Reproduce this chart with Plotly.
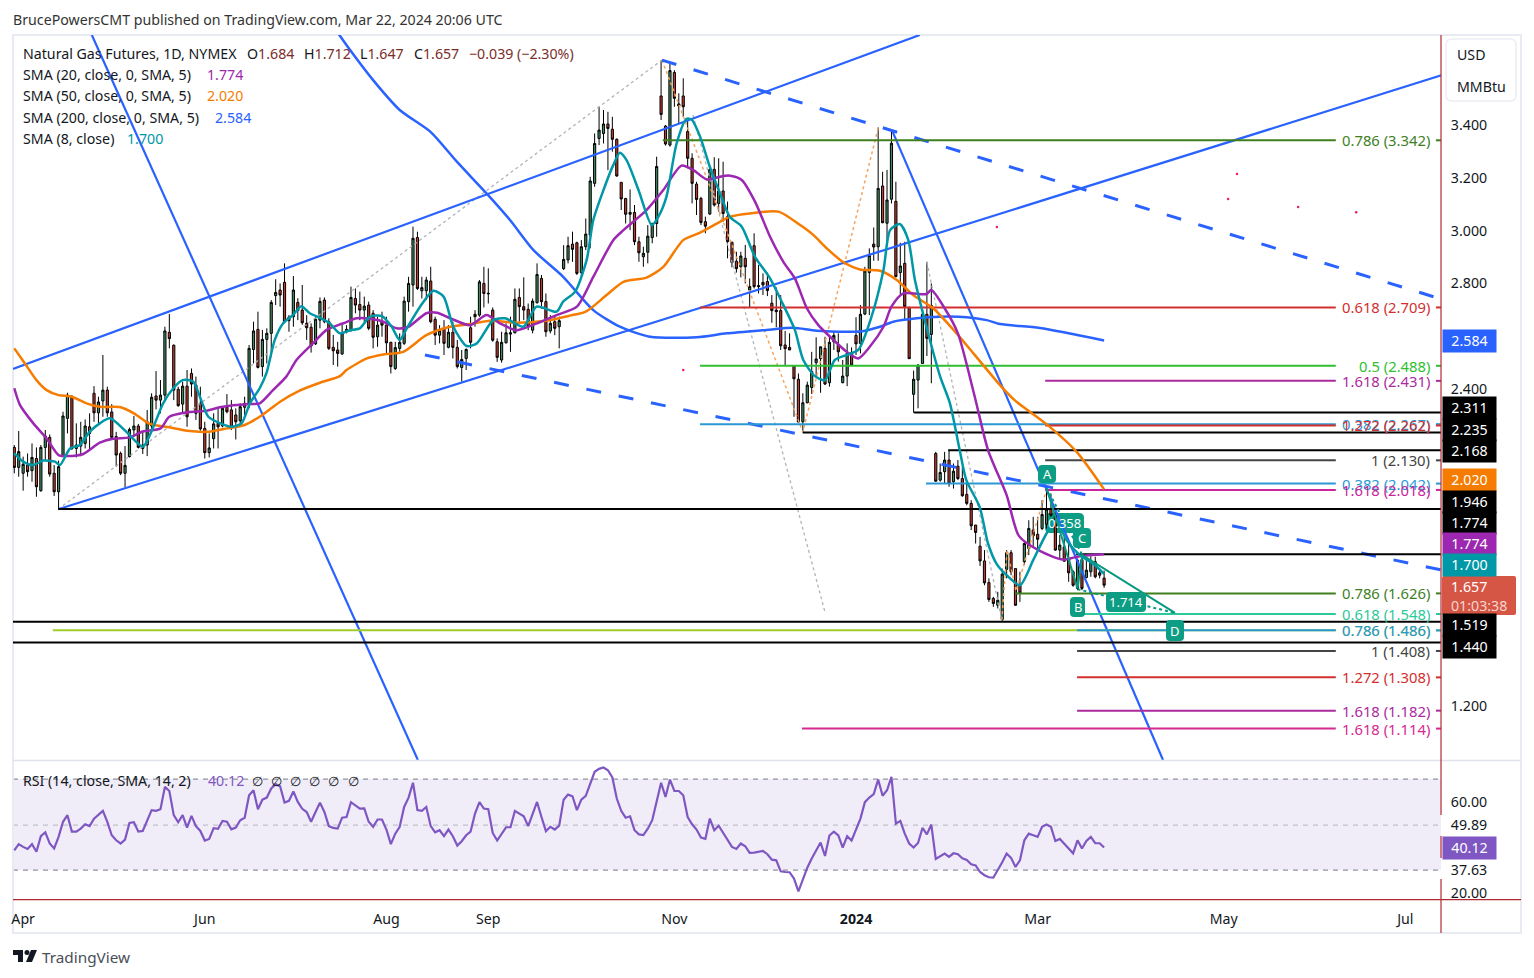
import plotly.graph_objects as go

# ---------------- DATA ----------------
opens = [2.179,2.103,2.081,2.112,2.091,2.137,2.015,2.179,2.217,2.081,
2.011,2.146,2.289,2.371,2.175,2.184,2.194,2.257,2.384,2.310,
2.355,2.396,2.313,2.220,2.156,2.081,2.144,2.245,2.260,2.175,
2.188,2.260,2.374,2.358,2.377,2.615,2.566,2.399,2.343,2.411,
2.459,2.415,2.346,2.251,2.159,2.212,2.270,2.260,2.331,2.321,
2.302,2.280,2.331,2.346,2.550,2.626,2.485,2.588,2.611,2.754,
2.775,2.804,2.659,2.674,2.728,2.699,2.649,2.634,2.571,2.661,
2.737,2.655,2.558,2.548,2.533,2.617,2.623,2.743,2.720,2.699,
2.718,2.687,2.598,2.655,2.642,2.577,2.478,2.554,2.573,2.731,
2.794,2.974,2.772,2.772,2.809,2.664,2.604,2.630,2.558,2.615,
2.558,2.482,2.516,2.632,2.683,2.680,2.800,2.763,2.699,2.579,
2.510,2.575,2.608,2.613,2.747,2.712,2.702,2.623,2.727,2.819,
2.731,2.620,2.655,2.636,2.856,2.889,2.949,2.954,2.841,2.939,
2.983,3.179,3.349,3.368,3.404,3.384,3.346,3.183,3.122,3.062,
3.069,2.958,2.901,2.918,2.974,3.027,3.510,3.396,3.324,3.599,
3.480,3.510,3.375,3.274,3.176,3.122,3.034,3.063,3.232,3.103,
3.150,3.053,2.956,2.884,2.863,2.895,2.775,2.943,2.792,2.794,
2.807,2.725,2.699,2.697,2.567,2.558,2.488,2.437,2.276,2.348,
2.406,2.500,2.515,2.554,2.424,2.579,2.567,2.424,2.449,2.538,
2.603,2.573,2.684,2.841,2.949,2.939,3.169,3.028,3.119,3.111,
2.841,2.876,2.709,2.380,2.434,2.497,2.683,2.607,2.156,2.055,
2.087,2.131,2.049,2.108,2.061,2.001,1.967,1.885,1.805,1.749,
1.667,1.607,1.581,1.527,1.717,1.780,1.720,1.657,1.746,1.796,
1.866,1.850,1.872,1.888,1.948,1.922,1.790,1.802,1.756,1.708,
1.645,1.754,1.686,1.708,1.746,1.695,1.684]
highs = [2.188,2.241,2.144,2.156,2.194,2.179,2.188,2.245,2.228,2.112,
2.129,2.314,2.386,2.377,2.270,2.276,2.285,2.308,2.411,2.371,
2.529,2.409,2.343,2.238,2.163,2.184,2.254,2.298,2.268,2.238,
2.321,2.384,2.468,2.434,2.636,2.684,2.569,2.409,2.428,2.472,
2.478,2.447,2.409,2.276,2.232,2.308,2.327,2.333,2.381,2.358,
2.327,2.346,2.371,2.567,2.655,2.693,2.624,2.630,2.737,2.816,
2.800,2.876,2.680,2.828,2.744,2.794,2.680,2.649,2.674,2.747,
2.747,2.668,2.605,2.579,2.649,2.642,2.788,2.781,2.769,2.750,
2.731,2.699,2.674,2.693,2.674,2.579,2.579,2.611,2.750,2.825,
3.015,2.996,2.825,2.825,2.863,2.674,2.642,2.661,2.642,2.655,
2.586,2.548,2.554,2.674,2.699,2.813,2.863,2.857,2.709,2.592,
2.617,2.649,2.674,2.781,2.781,2.823,2.724,2.743,2.876,2.832,
2.762,2.680,2.680,2.674,2.945,2.977,2.996,2.958,2.964,3.046,
3.204,3.368,3.469,3.457,3.450,3.431,3.349,3.183,3.122,3.156,
3.097,2.977,2.939,3.021,3.030,3.280,3.646,3.400,3.631,3.608,
3.520,3.577,3.419,3.293,3.185,3.128,3.053,3.242,3.278,3.274,
3.261,3.110,2.958,2.920,2.920,2.946,2.819,2.990,2.870,2.838,
2.841,2.756,2.785,2.756,2.620,2.611,2.488,2.459,2.384,2.428,
2.541,2.596,2.560,2.598,2.598,2.620,2.611,2.510,2.573,2.558,
2.672,2.718,2.863,2.933,3.012,3.391,3.223,3.230,3.375,3.185,
2.954,2.958,2.712,2.470,2.494,2.699,2.882,2.800,2.162,2.118,
2.162,2.169,2.118,2.131,2.105,2.042,1.979,1.885,1.840,1.790,
1.683,1.613,1.632,1.720,1.790,1.790,1.720,1.708,1.828,1.903,
1.916,1.916,1.979,2.017,2.004,1.948,1.847,1.840,1.821,1.714,
1.758,1.771,1.758,1.767,1.765,1.720,1.712]
lows = [2.081,2.068,2.015,2.068,2.049,1.992,2.011,2.131,2.068,1.995,
1.948,2.144,2.232,2.169,2.141,2.146,2.175,2.169,2.276,2.270,
2.295,2.295,2.207,2.106,2.074,2.028,2.141,2.220,2.175,2.154,
2.146,2.245,2.323,2.308,2.358,2.554,2.358,2.333,2.308,2.257,
2.371,2.283,2.242,2.137,2.141,2.175,2.175,2.255,2.308,2.245,
2.209,2.257,2.295,2.327,2.497,2.478,2.447,2.497,2.523,2.718,
2.712,2.649,2.617,2.636,2.661,2.643,2.586,2.538,2.567,2.630,
2.649,2.548,2.491,2.485,2.529,2.611,2.617,2.687,2.661,2.655,
2.623,2.554,2.560,2.598,2.529,2.459,2.472,2.541,2.567,2.693,
2.712,2.775,2.743,2.737,2.649,2.567,2.573,2.529,2.554,2.516,
2.478,2.428,2.472,2.554,2.636,2.674,2.709,2.724,2.579,2.503,
2.500,2.573,2.541,2.611,2.655,2.661,2.623,2.611,2.724,2.705,
2.598,2.611,2.604,2.554,2.851,2.876,2.882,2.832,2.819,2.926,
2.933,3.166,3.324,3.330,3.229,3.299,3.204,3.078,3.027,3.002,
2.945,2.882,2.863,2.876,2.952,2.977,3.419,3.322,3.318,3.469,
3.404,3.431,3.236,3.103,3.059,3.021,2.990,3.059,3.091,3.072,
3.034,2.895,2.861,2.841,2.823,2.800,2.709,2.781,2.762,2.756,
2.752,2.651,2.634,2.548,2.488,2.548,2.295,2.275,2.235,2.346,
2.381,2.447,2.386,2.415,2.409,2.548,2.504,2.422,2.411,2.487,
2.529,2.535,2.680,2.680,2.886,2.886,3.028,2.946,3.103,2.823,
2.756,2.664,2.515,2.310,2.327,2.497,2.525,2.422,2.049,2.049,
2.042,2.030,2.023,2.055,1.992,1.960,1.866,1.815,1.730,1.657,
1.594,1.575,1.569,1.518,1.683,1.695,1.579,1.594,1.733,1.771,
1.802,1.796,1.866,1.872,1.916,1.787,1.754,1.746,1.670,1.651,
1.638,1.638,1.683,1.689,1.683,1.683,1.647]
closes = [2.103,2.163,2.115,2.087,2.141,2.030,2.179,2.222,2.078,2.011,
2.106,2.298,2.377,2.175,2.188,2.217,2.260,2.232,2.310,2.351,
2.396,2.310,2.217,2.150,2.081,2.111,2.247,2.260,2.179,2.188,
2.276,2.369,2.358,2.377,2.620,2.591,2.396,2.337,2.411,2.295,
2.419,2.308,2.249,2.159,2.177,2.268,2.257,2.327,2.314,2.255,
2.276,2.333,2.346,2.554,2.620,2.482,2.588,2.611,2.728,2.766,
2.756,2.655,2.672,2.775,2.697,2.651,2.632,2.563,2.665,2.732,
2.655,2.554,2.545,2.535,2.613,2.626,2.747,2.718,2.699,2.714,
2.630,2.596,2.642,2.642,2.575,2.485,2.557,2.577,2.733,2.800,
2.971,2.781,2.784,2.813,2.655,2.604,2.621,2.573,2.615,2.558,
2.485,2.512,2.550,2.577,2.674,2.806,2.762,2.761,2.585,2.520,
2.577,2.613,2.613,2.740,2.712,2.699,2.636,2.733,2.834,2.731,
2.617,2.649,2.630,2.659,2.891,2.943,2.929,2.838,2.939,2.987,
3.188,3.330,3.381,3.404,3.387,3.346,3.207,3.120,3.062,3.069,
2.958,2.916,2.914,2.979,3.027,3.243,3.440,3.328,3.606,3.501,
3.472,3.469,3.274,3.179,3.118,3.031,3.017,3.232,3.097,3.150,
3.065,2.958,2.879,2.856,2.904,2.863,2.788,2.788,2.788,2.804,
2.773,2.697,2.693,2.564,2.553,2.548,2.439,2.275,2.348,2.415,
2.466,2.514,2.560,2.419,2.577,2.603,2.541,2.449,2.535,2.491,
2.571,2.683,2.847,2.906,2.938,3.160,3.030,3.116,3.331,2.826,
2.866,2.712,2.515,2.437,2.491,2.683,2.592,2.716,2.051,2.084,
2.131,2.042,2.089,2.061,1.996,1.967,1.882,1.857,1.749,1.666,
1.603,1.588,1.600,1.699,1.780,1.708,1.581,1.628,1.815,1.872,
1.844,1.831,1.925,1.945,1.922,1.790,1.809,1.748,1.704,1.657,
1.752,1.645,1.714,1.748,1.689,1.704,1.657]

rsi_values = [38.8,41.5,40.3,39.4,41.5,38.2,45.0,46.7,41.8,39.6,44.7,51.3,54.2,47.0,47.0,48.3,50.2,49.4,52.7,54.5,
56.1,51.3,45.4,43.2,41.8,43.5,50.8,51.1,47.0,47.3,52.0,56.4,56.1,56.8,66.6,64.8,54.2,51.1,54.2,48.8,
53.9,49.4,47.3,43.1,43.8,48.5,48.2,51.7,51.3,48.0,48.8,52.0,53.1,62.9,65.1,56.8,61.0,61.9,65.9,67.8,
66.9,59.7,60.5,64.6,60.0,57.0,55.6,51.3,55.6,59.7,55.6,49.4,48.6,48.3,53.1,53.4,59.9,58.4,57.1,57.2,
51.3,49.1,52.3,52.3,47.9,41.5,46.1,49.1,57.8,61.9,68.4,56.4,56.1,57.8,49.4,46.7,47.6,45.0,47.9,45.0,
40.9,42.8,45.4,47.0,54.9,59.9,57.1,56.8,46.4,43.1,45.8,48.9,48.9,56.1,54.9,53.7,49.4,54.9,60.0,53.4,
47.2,49.1,47.9,49.6,61.0,63.2,62.5,56.4,61.0,62.7,68.1,73.2,74.5,75.1,73.9,70.7,61.5,56.1,53.1,53.7,
47.6,45.8,45.5,48.3,52.0,60.0,68.4,62.2,69.8,64.8,64.8,62.9,53.4,50.2,47.9,44.4,43.8,52.7,47.6,49.6,
46.4,43.1,40.3,39.4,41.8,40.6,37.7,37.8,38.1,38.5,37.1,34.7,34.4,29.6,29.3,29.2,26.4,20.8,26.0,31.2,
35.2,38.8,42.2,36.3,45.3,47.0,45.3,40.0,45.0,43.1,47.6,52.7,59.9,61.9,63.4,69.8,62.7,65.1,71.0,50.5,
51.7,46.1,41.8,40.0,42.0,48.6,45.8,50.1,35.0,36.2,37.4,35.9,37.5,37.1,35.3,34.6,32.7,32.2,29.3,27.9,
27.0,26.8,30.1,33.6,37.4,35.5,31.5,34.4,43.2,46.1,45.4,44.7,49.1,50.1,49.1,42.9,43.8,41.5,39.6,37.5,
43.2,39.6,42.9,44.7,41.9,41.9,40.0]

ma50_x = [0,2.4,5,7.3,10,13,16.3,19.3,24,27,30.6,35,39,43.4,48,52,56,60,64.4,69,73.5,75,79.6,83.3,87.8,93,98.4,102.9,107.4,113.4,120,125.4,129,133.7,137.5,142.7,146.5,151,154.8,160,161.6,166,172.5,177.4,180.4,183.4,187,190.9,195.4,199.2,202.9,207.4,212.7,216.5,222.5,225.8,233,239.8,246]
ma50_y = [2.554,2.497,2.434,2.396,2.377,2.371,2.346,2.333,2.331,2.308,2.268,2.255,2.242,2.238,2.251,2.264,2.302,2.352,2.394,2.424,2.449,2.472,2.516,2.531,2.541,2.604,2.636,2.646,2.659,2.651,2.659,2.678,2.693,2.756,2.806,2.822,2.863,2.964,2.992,3.040,3.053,3.065,3.072,3.021,2.983,2.933,2.882,2.853,2.848,2.813,2.756,2.706,2.611,2.535,2.415,2.358,2.267,2.162,2.020]
ma20_x = [0,1.3,4.3,7.3,10,12,15.6,19.3,22.3,26,29,33,35,39,43.4,46.4,49.4,53,55.4,58.4,61.4,63.7,67.4,70.5,73.5,74.3,77.3,81,83.3,86.3,89,93,95.4,98.4,102.9,106.6,109.6,113.4,118,122.4,127,130.7,135.2,137.5,142.7,146.5,150.6,153.3,156.3,160,161.6,164.2,167.2,170.6,173.6,176.2,178.9,181.5,184.9,187.9,190.5,193.1,196.2,198,200.7,205.9,207,210,213,216.8,219.8,224,226.8,231.5,236.7,240.5,246]
ma20_y = [2.403,2.339,2.270,2.213,2.150,2.146,2.154,2.197,2.212,2.217,2.239,2.251,2.295,2.312,2.318,2.331,2.339,2.343,2.346,2.396,2.447,2.510,2.573,2.624,2.645,2.649,2.668,2.664,2.655,2.630,2.636,2.687,2.689,2.668,2.642,2.680,2.649,2.623,2.649,2.680,2.712,2.825,2.964,3.002,3.078,3.154,3.246,3.229,3.194,3.207,3.208,3.192,3.110,2.977,2.882,2.819,2.706,2.642,2.586,2.541,2.516,2.560,2.636,2.712,2.762,2.760,2.775,2.706,2.611,2.371,2.169,1.998,1.843,1.787,1.754,1.767,1.774]
ma8_x = [0,2,4.3,6.5,9.2,10.3,12.6,14.8,17,19.3,21.6,25.3,29,31.4,33.6,35.9,38,40.4,41.9,43.8,46.8,49,51.3,53.2,55.4,56.9,58.8,60.7,62.9,64.8,66.7,69.3,71.2,73.5,75.8,78,80.3,83,85.2,87,88.6,91.6,94.6,96.9,99.1,102.1,104.4,108.1,110.8,114.9,117.9,122.4,123.9,126.6,129.2,130.7,133,135.2,136.7,138.2,140.9,143.9,145.4,147.2,149.5,151.7,152.9,154.8,157,159.3,161.5,164.2,167.2,170.6,173.6,176.2,178.1,180.7,183,185.2,187.9,190.5,193.5,196.2,197.7,199.9,201.8,203.3,205.9,209,211.2,213.4,214.9,217.9,219.8,221.7,224,227,230,233,235.2,237.5,240.5,243.5,246]
ma8_y = [2.156,2.125,2.112,2.129,2.125,2.112,2.175,2.188,2.238,2.270,2.289,2.238,2.182,2.257,2.346,2.403,2.434,2.428,2.371,2.295,2.268,2.257,2.270,2.346,2.403,2.459,2.586,2.649,2.680,2.714,2.687,2.668,2.649,2.611,2.623,2.630,2.674,2.676,2.636,2.586,2.630,2.712,2.772,2.750,2.636,2.563,2.573,2.661,2.668,2.636,2.712,2.693,2.731,2.769,2.889,3.040,3.154,3.248,3.295,3.267,3.154,3.021,3.053,3.128,3.330,3.423,3.421,3.356,3.242,3.141,3.053,3.015,2.901,2.819,2.718,2.624,2.510,2.449,2.434,2.510,2.529,2.548,2.674,2.851,3.002,3.025,2.964,2.813,2.636,2.447,2.346,2.169,2.055,1.954,1.815,1.739,1.695,1.657,1.752,1.853,1.903,1.828,1.771,1.739,1.700]
ma200_x = [73,75.8,81,87,93.9,99.9,106.6,111.9,117.2,123.9,130.7,136.7,143.5,154,160.8,169.8,175.8,181.1,190.9,195.4,198.4,203.7,208.9,215,219.5,222.5,231.5,246]
ma200_y = [3.750,3.684,3.570,3.457,3.375,3.261,3.141,3.040,2.926,2.825,2.699,2.636,2.598,2.596,2.611,2.624,2.632,2.621,2.618,2.636,2.655,2.668,2.674,2.672,2.661,2.646,2.631,2.584]

fib_prices = [3.342,2.709,2.488,2.431,2.267,2.262,2.130,2.042,2.018,1.626,1.548,1.486,1.486,1.408,1.308,1.182,1.114]
fib_labels = ["0.786 (3.342)","0.618 (2.709)","0.5 (2.488)","1.618 (2.431)","0.382 (2.267)","1.272 (2.262)","1 (2.130)","0.382 (2.042)","1.618 (2.018)","0.786 (1.626)","0.618 (1.548)","0.786 (1.486)","0.786 (1.486)","1 (1.408)","1.272 (1.308)","1.618 (1.182)","1.618 (1.114)"]
fib_starts = [146.4,154.8,154.8,232.7,154.8,232.7,232.7,205.8,232.7,225.9,239.9,8.7,239.9,239.9,239.9,239.9,177.8]
fib_colors = ["#3f7f1f","#d32f2f","#2fbf2f","#ab2a9e","#2b98d4","#d32f2f","#444444","#2b98d4","#c9249a","#3f7f1f","#2ec99a","#a0cc2a","#2b98d4","#444444","#d32f2f","#ab2a9e","#d6298f"]

level_prices = [2.311,2.235,2.168,1.946,1.774,1.519,1.440]
level_starts = [203.1,178,210.8,9.9,239.7,-1,-1]

tick_x = [2,43,84,107,149,190,231,273,314]
tick_labels = ["Apr","Jun","Aug","Sep","Nov","<b>2024</b>","Mar","May","Jul"]
price_ticks = [3.4,3.2,3.0,2.8,2.4,1.4,1.2]
rsi_ticks = [60,49.89,30,20]
rsi_tick_labels = ["60.00","49.89","37.63","20.00"]

solid_lines = [((-0.3,204.4),(2.476,3.741)),((9.9,322.3),(1.945,3.589)),((17.5,91.1),(3.741,0.995)),((198.3,259.3),(3.373,0.995))]
dashed_lines = [((146.2,320.7),(3.646,2.748)),((92.7,322.3),(2.529,1.714))]
grey_dotted = [((9.9,146.2),(1.945,3.646)),((153.2,183),(3.438,1.555)),((206,222.9),(2.881,1.525))]
orange_dotted = [((146.2,178,195),(3.646,2.237,3.389)),((222.9,224.1,226.1,233.1),(1.525,1.790,1.635,2.025))]
pattern_x = [233,240,241.1,262]
pattern_y = [2.025,1.646,1.771,1.552]
pattern_dot = [((240,262),(1.642,1.552)),((233,241.1),(2.025,1.771))]
pink_x = [151,221.8,276,274,289.8,302.9]
pink_y = [2.472,3.014,3.214,3.12,3.089,3.07]

# ---------------- HELPERS ----------------
W, H = 1534, 978
FONT = "Noto Sans"
FS = 14.2
VSCALE = 1.0032
PX = lambda x: (x - 2 * (1521 - x) / 1508) / W
PY = lambda y: 1 - y * VSCALE / H
XEND = 322.05
TEXT = "#131722"

fig = go.Figure()
fig.add_trace(go.Candlestick(x=list(range(len(opens))), open=opens, high=highs, low=lows, close=closes,
    increasing=dict(fillcolor="#3f8a60", line=dict(color="#000000", width=1)),
    decreasing=dict(fillcolor="#c23a2b", line=dict(color="#000000", width=1)),
    whiskerwidth=0, xaxis="x", yaxis="y", showlegend=False, hoverinfo="skip"))

def line(xs, ys, color, width=2, dash="solid", yaxis="y", shape="linear"):
    fig.add_trace(go.Scatter(x=list(xs), y=list(ys), mode="lines", xaxis="x", yaxis=yaxis, connectgaps=False,
        line=dict(color=color, width=width, dash=dash, shape=shape, **(dict(smoothing=0.7) if shape == "spline" else {})),
        showlegend=False, hoverinfo="skip"))

for xs, ys in grey_dotted:
    line(xs, ys, "#b0b3b8", 1.3, "dot")
for xs, ys in orange_dotted:
    line(xs, ys, "#f4a460", 1.5, "dot")
for xs, ys in solid_lines:
    line(xs, ys, "#2962ff", 2.2)
for xs, ys in dashed_lines:
    line(xs, ys, "#2962ff", 3, "15px,18px")

annotations = []
def note(text, x, y, color=TEXT, size=FS, anchor="left", **kw):
    dx = -2 if anchor == "left" else 0
    annotations.append(dict(text=text, x=PX(x + dx), y=PY(y), xref="paper", yref="paper", xanchor=anchor,
        yanchor="middle", showarrow=False, font=dict(family=FONT, size=size, color=color), **kw))

# Fibonacci levels: segment, gap for the label, stub to the axis
GAP_L, GAP_R, LABEL_X = 298.3, 320.9, 320.0
for p, lab, s, c in zip(fib_prices, fib_labels, fib_starts, fib_colors):
    line([s, GAP_L, None, GAP_R, XEND], [p, p, None, p, p], c, 2)
    annotations.append(dict(text=lab, x=LABEL_X, y=p, xref="x", yref="y", xanchor="right", yanchor="middle",
        showarrow=False, font=dict(family=FONT, size=14.8, color=c)))
for p, s in zip(level_prices, level_starts):
    line([s, XEND], [p, p], "#000000", 2)

line(ma200_x, ma200_y, "#2962ff", 2.5, shape="spline")
line(ma50_x, ma50_y, "#f57c00", 2.5, shape="spline")
line(ma20_x, ma20_y, "#9c27b0", 2.5, shape="spline")
line(ma8_x, ma8_y, "#0097a7", 2.5, shape="spline")

line(pattern_x, pattern_y, "#089981", 2)
for xs, ys in pattern_dot:
    line(xs, ys, "#089981", 2, "dot")
fig.add_trace(go.Scatter(x=pink_x, y=pink_y, mode="markers", xaxis="x", yaxis="y",
    marker=dict(color="#e91e63", size=2.5), showlegend=False, hoverinfo="skip"))

# RSI
fig.add_trace(go.Scatter(x=list(range(len(rsi_values))), y=rsi_values, mode="lines", xaxis="x", yaxis="y2",
    line=dict(color="#7e57c2", width=2.2), showlegend=False, hoverinfo="skip"))

# ---------------- SHAPES ----------------
shapes = []
def rect_px(x0, y0, x1, y1, fill=None, color=None, width=0, layer="above"):
    shapes.append(dict(type="rect", xref="paper", yref="paper", x0=PX(x0), x1=PX(x1), y0=PY(y0), y1=PY(y1),
        fillcolor=fill, line=dict(color=color, width=width), layer=layer))
def seg_px(x0, y0, x1, y1, color, width=1, dash="solid", layer="above"):
    shapes.append(dict(type="line", xref="paper", yref="paper", x0=PX(x0), x1=PX(x1), y0=PY(y0), y1=PY(y1),
        line=dict(color=color, width=width, dash=dash), layer=layer))
def round_px(x0, y0, x1, y1, r, fill=None, color=None, width=0, layer="above"):
    X, Y = PX, PY
    d = (f"M{X(x0+r)},{Y(y0)} L{X(x1-r)},{Y(y0)} Q{X(x1)},{Y(y0)} {X(x1)},{Y(y0+r)} "
         f"L{X(x1)},{Y(y1-r)} Q{X(x1)},{Y(y1)} {X(x1-r)},{Y(y1)} L{X(x0+r)},{Y(y1)} "
         f"Q{X(x0)},{Y(y1)} {X(x0)},{Y(y1-r)} L{X(x0)},{Y(y0+r)} Q{X(x0)},{Y(y0)} {X(x0+r)},{Y(y0)} Z")
    shapes.append(dict(type="path", xref="paper", yref="paper", path=d, fillcolor=fill,
        line=dict(color=color, width=width), layer=layer))

# RSI band and its dashed levels
rect_px(13, 779, 1441, 870, fill="rgba(126,87,194,0.11)", layer="below")
seg_px(13, 779, 1441, 779, "#787b86", 1, "5px,5px", "below")
seg_px(13, 825, 1441, 825, "#b2b5be", 1, "5px,5px", "below")
seg_px(13, 870, 1441, 870, "#787b86", 1, "5px,5px", "below")

# frame and separators
rect_px(13, 35, 1521, 933, color="#e9ebf3", width=2, layer="below")
seg_px(13, 760.5, 1521, 760.5, "#e0e3eb", 1.5)
seg_px(1441, 35, 1441, 815, "#b22833", 1.2)
seg_px(1441, 836, 1441, 858, "#b22833", 1.2)
seg_px(1441, 879, 1441, 933, "#b22833", 1.2)
seg_px(13, 899.5, 1521, 899.5, "#b22833", 1.2)
round_px(1446, 39, 1516, 101, 6, fill="#ffffff", color="#eceef4", width=1.5)

# pattern labels
TEAL = "#0d9d84"
round_px(1045, 513, 1084, 533, 5, fill=TEAL, layer="below")
for (x0, y0, x1, y1) in [(1038, 465, 1056, 483), (1073, 528, 1091, 548), (1070, 597, 1085, 617),
                         (1106, 592, 1146, 612), (1166, 620, 1184, 641)]:
    round_px(x0, y0, x1, y1, 4, fill=TEAL)
for t, x, y in [("A", 1047, 474), ("0.358", 1064, 523), ("C", 1082, 538), ("B", 1077.5, 607), ("1.714", 1126, 602), ("D", 1175, 631)]:
    note(t, x, y, "#ffffff", 13, "center")

# price label with countdown
round_px(1442, 576, 1516, 615, 2, fill="#d65645")

# TradingView logo
seg = [((13, 950), (23, 950), (23, 962), (18, 962), (18, 955), (13, 955))]
d = "M" + " L".join(f"{PX(a)},{PY(b)}" for a, b in seg[0]) + " Z"
shapes.append(dict(type="path", xref="paper", yref="paper", path=d, fillcolor="#131722", line=dict(width=0)))
d = "M" + " L".join(f"{PX(a)},{PY(b)}" for a, b in [(31, 950), (37, 950), (32, 962), (26, 962)]) + " Z"
shapes.append(dict(type="path", xref="paper", yref="paper", path=d, fillcolor="#131722", line=dict(width=0)))
shapes.append(dict(type="circle", xref="paper", yref="paper", x0=PX(24.5), x1=PX(29.5), y0=PY(950), y1=PY(955),
    fillcolor="#131722", line=dict(width=0)))

# ---------------- TEXT ----------------
note("BrucePowersCMT published on TradingView.com, Mar 22, 2024 20:06 UTC", 13, 19, "#333333")
note("TradingView", 42, 957, "#4a4e59", 15.3)
V = "#7a2e2a"
note("Natural Gas Futures, 1D, NYMEX", 23, 53.5)
for head, val, x in [("O", "1.684", 247), ("H", "1.712", 304), ("L", "1.647", 360), ("C", "1.657", 414)]:
    note(f'{head}<span style="color:{V}">{val}</span>', x, 53.5)
note("−0.039 (−2.30%)", 469, 53.5, V)
for text, val, col, y, vx in [("SMA (20, close, 0, SMA, 5)", "1.774", "#9c27b0", 74.5, 207), ("SMA (50, close, 0, SMA, 5)", "2.020", "#f57c00", 95.5, 207),
                              ("SMA (200, close, 0, SMA, 5)", "2.584", "#2962ff", 117, 215), ("SMA (8, close)", "1.700", "#0097a7", 138, 127)]:
    note(text, 23, y)
    note(val, vx, y, col)
note("RSI (14, close, SMA, 14, 2)", 23, 780.5)
note("40.12", 208, 780.5, "#7e57c2")
for x in [258, 277, 296, 315, 334, 354]:
    note("∅", x, 780.5, TEXT, 13, "center")
note("USD", 1457, 54.5)
note("MMBtu", 1457, 86)
note("1.657", 1451, 586, "#ffffff")
note("01:03:38", 1451, 605, "#f5d5d0")

def box(text, yc, fill, x0=1442, w=53, h=21.5):
    annotations.append(dict(text=text, x=PX(x0), y=PY(yc), xref="paper", yref="paper", xanchor="left", yanchor="middle",
        showarrow=False, width=w, height=h, bgcolor=fill, align="center", borderpad=0,
        font=dict(family=FONT, size=FS, color="#ffffff")))
for t, y, c in [("2.584", 340.5, "#2962ff"), ("2.311", 408, "#000000"), ("2.235", 429.5, "#000000"), ("2.168", 451, "#000000"),
                ("2.020", 479.5, "#f57c00"), ("1.946", 501.5, "#000000"), ("1.774", 522.5, "#000000"), ("1.774", 543.5, "#9c27b0"),
                ("1.700", 564.5, "#0097a7"), ("1.519", 625, "#000000"), ("1.440", 647, "#000000"), ("40.12", 847.5, "#7e57c2")]:
    box(t, y, c)

# ---------------- LAYOUT ----------------
AXF = dict(family=FONT, size=FS, color=TEXT)
fig.update_layout(
    width=W, height=H, margin=dict(l=0, r=0, t=0, b=0, pad=0), paper_bgcolor="#ffffff", plot_bgcolor="rgba(0,0,0,0)",
    showlegend=False, hovermode=False, shapes=shapes, annotations=annotations,
    font=dict(family=FONT, size=FS, color=TEXT),
    xaxis=dict(domain=[PX(13), PX(1441)], anchor="y2", range=[-0.293, XEND], type="linear", rangeslider=dict(visible=False),
               tickmode="array", tickvals=tick_x, ticktext=tick_labels, showgrid=False, zeroline=False, showline=False,
               ticks="outside", ticklen=6, tickcolor="rgba(0,0,0,0)", tickfont=AXF),
    yaxis=dict(domain=[PY(760), PY(35)], anchor="x", side="right", range=[0.9947, 3.7409], tickmode="array",
               tickvals=price_ticks, ticktext=[f"{v:.3f}" for v in price_ticks], showgrid=False, zeroline=False, showline=False,
               ticks="outside", ticklen=6, tickcolor="rgba(0,0,0,0)", tickfont=AXF),
    yaxis2=dict(domain=[PY(899.5), PY(761)], anchor="x", side="right", range=[17.2, 77.9], tickmode="array",
                tickvals=rsi_ticks, ticktext=rsi_tick_labels, showgrid=False, zeroline=False, showline=False,
                ticks="outside", ticklen=6, tickcolor="rgba(0,0,0,0)", tickfont=AXF),
)

fig.write_html("out.html", config=dict(displayModeBar=False),
               post_script="document.body.style.margin='0';document.documentElement.style.overflow='hidden';")
